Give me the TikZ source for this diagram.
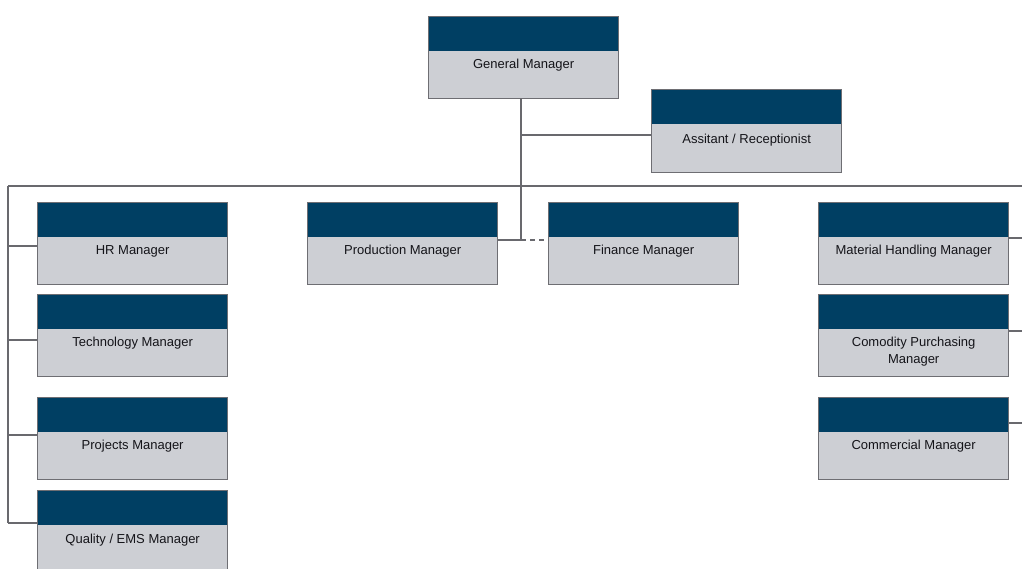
\documentclass[tikz,border=0pt]{standalone}
\usepackage{fontspec}
\setmainfont{Liberation Sans}
\definecolor{navy}{RGB}{0,63,99}
\definecolor{boxgray}{RGB}{205,207,212}
\definecolor{boxline}{RGB}{110,110,115}
\definecolor{linecol}{RGB}{105,105,110}
\definecolor{textcol}{RGB}{20,20,25}
\tikzset{
  box/.style={draw=boxline, line width=1.3pt, fill=boxgray, minimum width=190pt, minimum height=82pt,
    inner sep=0pt, anchor=north west,
    path picture={\fill[navy] (path picture bounding box.north west) rectangle ([yshift=-34pt]path picture bounding box.north east);}},
  lbl/.style={font=\fontsize{13}{17}\selectfont, text=textcol, align=center, inner sep=0pt, anchor=center},
  conn/.style={draw=linecol, line width=1.2pt}
}
\begin{document}
\begin{tikzpicture}[x=1pt,y=-1pt]
\useasboundingbox (0,0) rectangle (1022,568);
% boxes
\node[box] (gm) at (428,16) {};
\node[box, minimum height=83pt] (asst) at (651,89) {};
\node[box] (hr) at (37,202) {};
\node[box] (tech) at (37,294) {};
\node[box] (proj) at (37,397) {};
\node[box] (qual) at (37,490) {};
\node[box] (prod) at (307,202) {};
\node[box] (fin) at (548,202) {};
\node[box] (mat) at (818,202) {};
\node[box] (comp) at (818,294) {};
\node[box] (comm) at (818,397) {};
% labels
\node[lbl] (gmT) at ([yshift=-49pt]gm.north) {General Manager};
\node[lbl] (asstT) at ([yshift=-51pt]asst.north) {Assitant / Receptionist};
\node[lbl] (hrT) at ([yshift=-49pt]hr.north) {HR Manager};
\node[lbl] (techT) at ([yshift=-49pt]tech.north) {Technology Manager};
\node[lbl] (projT) at ([yshift=-49pt]proj.north) {Projects Manager};
\node[lbl] (qualT) at ([yshift=-50pt]qual.north) {Quality / EMS Manager};
\node[lbl] (prodT) at ([yshift=-49pt]prod.north) {Production Manager};
\node[lbl] (finT) at ([yshift=-49pt]fin.north) {Finance Manager};
\node[lbl] (matT) at ([yshift=-49pt]mat.north) {Material Handling Manager};
\node[lbl] (compT) at ([yshift=-57.5pt]comp.north) {Comodity Purchasing\\Manager};
\node[lbl] (commT) at ([yshift=-49pt]comm.north) {Commercial Manager};
% connector coordinates
\coordinate (spine) at (521,240);
\coordinate (gmfoot) at (521,98);
\coordinate (asstj) at (521,135);
\coordinate (barL) at (8,186);
\coordinate (barR) at (1022,186);
\coordinate (leftbot) at (8,523);
\coordinate (hrj) at (8,246);
\coordinate (techj) at (8,340);
\coordinate (projj) at (8,435);
\coordinate (matj) at (1022,238);
\coordinate (compj) at (1022,331);
\coordinate (commj) at (1022,423);
% connectors
\draw[conn] (gmfoot) -- (spine);
\draw[conn] (asstj) -- (asstj -| asst.west);
\draw[conn] (barL) -- (barR);
\draw[conn] (prod.east |- spine) -- (spine);
\draw[conn, dash pattern=on 5pt off 4pt] (spine) -- (spine -| fin.west);
\draw[conn] (barL) -- (leftbot);
\draw[conn] (hrj) -- (hrj -| hr.west);
\draw[conn] (techj) -- (techj -| tech.west);
\draw[conn] (projj) -- (projj -| proj.west);
\draw[conn] (leftbot) -- (leftbot -| qual.west);
\draw[conn] (mat.east |- matj) -- (matj);
\draw[conn] (comp.east |- compj) -- (compj);
\draw[conn] (comm.east |- commj) -- (commj);
\end{tikzpicture}
\end{document}
